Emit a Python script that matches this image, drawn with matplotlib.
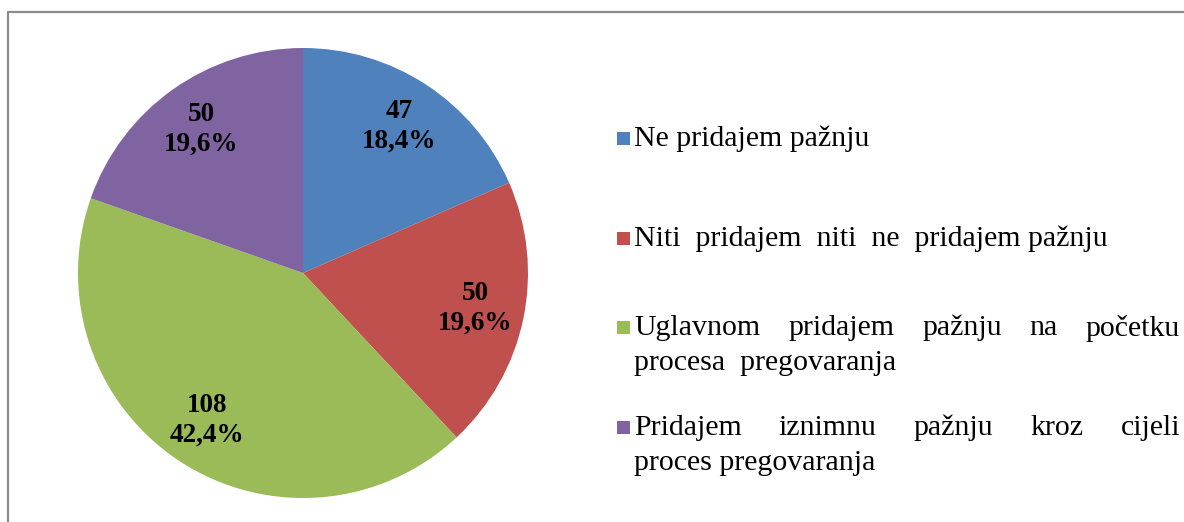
import numpy as np
import matplotlib
matplotlib.use('Agg')
from matplotlib import pyplot as plt
from matplotlib.patches import Rectangle

plt.rcParams['font.family'] = ['Liberation Serif', 'DejaVu Serif']

# data
categories = ['Ne pridajem pažnju',
              'Niti pridajem niti ne pridajem pažnju',
              'Uglavnom pridajem pažnju na početku procesa pregovaranja',
              'Pridajem iznimnu pažnju kroz cijeli proces pregovaranja']
values = np.array([47, 50, 108, 50])
colors = ['#4F81BD', '#C0504D', '#9BBB59', '#8064A2']
# legend text as laid out in the reference (line, justified?)
legend_lines = [
    [('Ne pridajem pažnju', False)],
    [('Niti  pridajem  niti  ne  pridajem pažnju', False)],
    [('Uglavnom pridajem pažnju na početku', True),
     ('procesa  pregovaranja', False)],
    [('Pridajem iznimnu pažnju kroz cijeli', True),
     ('proces pregovaranja', False)],
]
legend_y = [[139], [239], [328, 363], [428, 463]]

W, H = 1184, 522
fig = plt.figure(figsize=(W / 100, H / 100), dpi=100)

# outer frame
fig.patches.append(Rectangle((8 / W, -0.1), 1.2, (H - 12) / H + 0.1,
                             transform=fig.transFigure, fill=False,
                             edgecolor='#8c8c8c', linewidth=1.6))

# pie: center (303, 273) px, radius 225 px
cx, cy, r = 303, 273, 225
ax = fig.add_axes([(cx - r) / W, (H - cy - r) / H, 2 * r / W, 2 * r / H])
total = values.sum()


def fmt(p):
    n = int(round(p * total / 100))
    return f'{n}\n{p:.1f}%'.replace('.', ',')


wedges, texts, autotexts = ax.pie(values, colors=colors, startangle=90,
                                  counterclock=False, autopct=fmt,
                                  pctdistance=0.78, radius=1,
                                  wedgeprops=dict(linewidth=0))
for t in autotexts:
    t.set_fontsize(19.5)
    t.set_fontweight('bold')
    t.set_linespacing(1.25)
ax.set_xlim(-1, 1)
ax.set_ylim(-1, 1)
ax.set_aspect('equal')
ax.axis('off')

# legend drawn by hand (justified text like the original)
fs = 21.5
x_sq, sq = 617, 13
x_txt, x_right = 634, 1180
fig.canvas.draw()
renderer = fig.canvas.get_renderer()
for i, (lines, ys) in enumerate(zip(legend_lines, legend_y)):
    fig.patches.append(Rectangle((x_sq / W, (H - ys[0] - sq / 2 + 1) / H),
                                 sq / W, sq / H, transform=fig.transFigure,
                                 facecolor=colors[i], edgecolor='none'))
    for (line, just), y in zip(lines, ys):
        yf = (H - y) / H
        if not just:
            fig.text(x_txt / W, yf, line, fontsize=fs, va='center',
                     ha='left')
            continue
        words = line.split()
        widths = []
        for w in words:
            t = fig.text(0, 0, w, fontsize=fs)
            widths.append(t.get_window_extent(renderer).width)
            t.remove()
        gap = (x_right - x_txt - sum(widths)) / (len(words) - 1)
        x = x_txt
        for w, wd in zip(words, widths):
            fig.text(x / W, yf, w, fontsize=fs, va='center', ha='left')
            x += wd + gap

fig.savefig('out.png', dpi=100)
